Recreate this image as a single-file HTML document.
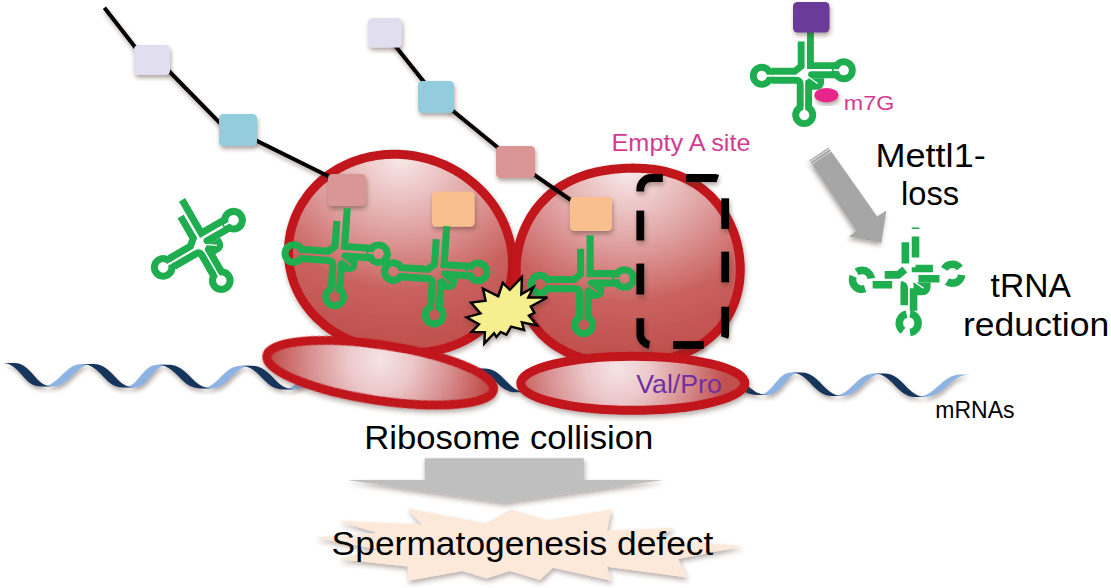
<!DOCTYPE html>
<html><head><meta charset="utf-8">
<style>
html,body{margin:0;padding:0;background:#fff;}
svg{display:block;}
text{font-family:"Liberation Sans",sans-serif;}
</style></head>
<body>
<svg width="1111" height="588" viewBox="0 0 1111 588">

<defs>
 <radialGradient id="gBig" cx="0.5" cy="0.02" r="0.95" fx="0.5" fy="0.02">
  <stop offset="0" stop-color="#f8e8e8"/>
  <stop offset="0.35" stop-color="#e2a9a9"/>
  <stop offset="0.7" stop-color="#c9625f"/>
  <stop offset="1" stop-color="#c0504d"/>
 </radialGradient>
 <radialGradient id="gSL" gradientUnits="userSpaceOnUse" cx="378" cy="362" r="108" fx="378" fy="360">
  <stop offset="0" stop-color="#f6e4e6"/>
  <stop offset="0.3" stop-color="#ecc8ca"/>
  <stop offset="0.65" stop-color="#d78f8f"/>
  <stop offset="1" stop-color="#c0504d"/>
 </radialGradient>
 <radialGradient id="gSR" gradientUnits="userSpaceOnUse" cx="618" cy="370" r="108" fx="618" fy="368">
  <stop offset="0" stop-color="#f6e4e6"/>
  <stop offset="0.3" stop-color="#ecc8ca"/>
  <stop offset="0.65" stop-color="#d78f8f"/>
  <stop offset="1" stop-color="#c0504d"/>
 </radialGradient>
 <filter id="sh" x="-20%" y="-20%" width="140%" height="140%">
  <feGaussianBlur in="SourceAlpha" stdDeviation="2.5"/>
  <feOffset dx="1" dy="3" result="o"/>
  <feFlood flood-color="#4a3028"/><feComposite in2="o" operator="in"/><feComponentTransfer><feFuncA type="linear" slope="0.4"/></feComponentTransfer>
  <feMerge><feMergeNode/><feMergeNode in="SourceGraphic"/></feMerge>
 </filter>
 <filter id="shA" x="-30%" y="-30%" width="160%" height="160%">
  <feGaussianBlur in="SourceAlpha" stdDeviation="2.2"/>
  <feOffset dx="-1.5" dy="2.5" result="o"/>
  <feFlood flood-color="#4a3028"/><feComposite in2="o" operator="in"/><feComponentTransfer><feFuncA type="linear" slope="0.4"/></feComponentTransfer>
  <feMerge><feMergeNode/><feMergeNode in="SourceGraphic"/></feMerge>
 </filter>
 <filter id="sh2" x="-20%" y="-20%" width="140%" height="140%">
  <feGaussianBlur in="SourceAlpha" stdDeviation="2.2"/>
  <feOffset dx="0.5" dy="2.5" result="o"/>
  <feFlood flood-color="#4a3028"/><feComposite in2="o" operator="in"/><feComponentTransfer><feFuncA type="linear" slope="0.42"/></feComponentTransfer>
  <feMerge><feMergeNode/><feMergeNode in="SourceGraphic"/></feMerge>
 </filter>
 <mask id="slit" maskUnits="userSpaceOnUse" x="-60" y="-60" width="120" height="120">
  <rect x="-60" y="-60" width="120" height="120" fill="#fff"/>
  <path d="M3.2,3.9 L13.6,11.1" stroke="#000" stroke-width="1.3"/>
 </mask>
 <mask id="lslit" maskUnits="userSpaceOnUse" x="-60" y="-60" width="120" height="120">
  <rect x="-60" y="-60" width="120" height="120" fill="#fff"/>
  <path d="M-0.15,30 V43.7 M-30,3.15 H-44 M30,-2.6 H40.5" stroke="#000" stroke-width="1.9"/>
 </mask>
 <g id="trna" fill="none" stroke-linejoin="miter" stroke-miterlimit="10">
  <path d="M6.1,-45.8 V-7.35 H33"/>
  <path d="M-3.45,-32.2 V-6.8 L-10,-1.45 H-34"/>
  <path d="M-34,7.75 H-8.5 Q-4.45,7.75 -4.45,11.8 V35"/>
  <g mask="url(#slit)">
   <path d="M33,2.15 H7.25" stroke-linecap="round"/>
   <path d="M3.7,5.7 H20.2 V10 A7.7 7.7 0 0 1 12.5,17.7 H4.25 V8 Z" fill="currentColor" stroke="none"/>
  </g>
  <path d="M4.25,35 V10.3" stroke-linecap="round"/>
  <g mask="url(#lslit)">
  <circle cx="40.5" cy="-2.5" r="8.8"/>
  <circle cx="-0.3" cy="43.7" r="8.8"/>
  <circle cx="-44" cy="3.2" r="8.8"/>
  </g>
 </g>
 <g id="trnaD" fill="none" stroke-linejoin="miter" stroke-miterlimit="10">
  <path d="M6.1,-45.8 V-7.35 H33" stroke-dasharray="1.5 7 19.7 9 17.5 100"/>
  <path d="M-3.45,-32.2 V-6.8 L-10,-1.45 H-34" stroke-dasharray="0 0.4 19.7 5.9 20.6 100"/>
  <path d="M-34,7.75 H-8.5 Q-4.45,7.75 -4.45,11.8 V35" stroke-dasharray="18.3 7.7 21.1 100"/>
  <g mask="url(#slit)">
   <path d="M33,2.15 H7.25" stroke-dasharray="0 4.5 19.7 100"/>
   <path d="M3.7,5.7 H20.2 V10 A7.7 7.7 0 0 1 12.5,17.7 H4.25 V8 Z" fill="currentColor" stroke="none"/>
  </g>
  <path d="M4.25,35 V10.3" stroke-dasharray="0 3 20.9 100"/>
  <circle cx="40.5" cy="-2.5" r="8.8" stroke-dasharray="0 1.27 17.7 13.2 17.1 100"/>
  <circle cx="-0.3" cy="43.7" r="8.8" stroke-dasharray="12.4 6.9 19.8 3.4 12.7 100"/>
  <circle cx="-44" cy="3.2" r="8.8" stroke-dasharray="0 10.75 20.2 5.1 17.7 100"/>
 </g>
</defs>

<rect width="1111" height="588" fill="#fff"/>
<g filter="url(#sh2)"><path d="M41.1,386.5 C59.6,386.5 63.7,363.9 82.3,363.9 L93.3,363.9 C74.8,363.9 70.7,386.5 52.1,386.5Z" fill="#8db3e2"/><path d="M123.5,387.5 C138.8,387.5 142.2,364.8 157.5,364.8 L168.3,364.8 C153.0,364.8 149.6,387.5 134.3,387.5Z" fill="#8db3e2"/><path d="M200.6,388.4 C218.8,388.4 222.8,365.8 241.1,365.8 L251.7,365.8 C233.5,365.8 229.5,388.4 211.2,388.4Z" fill="#8db3e2"/><path d="M283.3,389.4 C299.2,389.4 302.8,366.7 318.8,366.7 L329.2,366.7 C313.3,366.7 309.7,389.4 293.7,389.4Z" fill="#8db3e2"/><path d="M360.9,390.3 C376.9,390.3 380.4,367.7 396.5,367.7 L406.7,367.7 C390.7,367.7 387.2,390.3 371.1,390.3Z" fill="#8db3e2"/><path d="M439.0,391.3 C454.8,391.3 458.3,368.6 474.2,368.6 L484.2,368.6 C468.4,368.6 464.9,391.3 449.0,391.3Z" fill="#8db3e2"/><path d="M516.1,392.2 C532.9,392.2 536.7,369.6 553.6,369.6 L563.4,369.6 C546.6,369.6 542.8,392.2 525.9,392.2Z" fill="#8db3e2"/><path d="M595.1,393.2 C612.1,393.2 615.9,370.6 632.9,370.6 L642.6,370.6 C625.6,370.6 621.8,393.2 604.9,393.2Z" fill="#8db3e2"/><path d="M674.2,394.1 C691.3,394.1 695.1,371.5 712.2,371.5 L721.8,371.5 C704.7,371.5 700.9,394.1 683.8,394.1Z" fill="#8db3e2"/><path d="M758.1,395.1 C773.1,395.1 776.5,372.5 791.6,372.5 L800.8,372.5 C785.8,372.5 782.4,395.1 767.3,395.1Z" fill="#8db3e2"/><path d="M832.6,396.0 C851.6,396.0 855.8,373.5 874.7,373.5 L883.9,373.5 C864.9,373.5 860.7,396.0 841.8,396.0Z" fill="#8db3e2"/><path d="M916.0,397.0 C936.3,397.0 940.9,374.5 961.3,374.5 L970.1,374.5 C949.8,374.5 945.2,397.0 924.8,397.0Z" fill="#8db3e2"/><path d="M2.6,362.9 C19.8,362.9 23.6,386.5 40.7,386.5 L52.5,386.5 C35.3,386.5 31.5,362.9 14.4,362.9Z" fill="#17365d"/><path d="M82.0,363.9 C100.5,363.9 104.6,387.5 123.1,387.5 L134.7,387.5 C116.2,387.5 112.1,363.9 93.6,363.9Z" fill="#17365d"/><path d="M157.1,364.8 C176.5,364.8 180.8,388.4 200.1,388.4 L211.7,388.4 C192.3,388.4 188.0,364.8 168.7,364.8Z" fill="#17365d"/><path d="M240.7,365.8 C259.7,365.8 263.9,389.4 282.8,389.4 L294.2,389.4 C275.2,389.4 271.0,365.8 252.1,365.8Z" fill="#17365d"/><path d="M318.4,366.7 C337.3,366.7 341.5,390.3 360.4,390.3 L371.6,390.3 C352.7,390.3 348.5,366.7 329.6,366.7Z" fill="#17365d"/><path d="M396.0,367.7 C415.1,367.7 419.4,391.3 438.4,391.3 L449.6,391.3 C430.5,391.3 426.2,367.7 407.2,367.7Z" fill="#17365d"/><path d="M473.7,368.6 C492.5,368.6 496.7,392.2 515.5,392.2 L526.5,392.2 C507.7,392.2 503.5,368.6 484.7,368.6Z" fill="#17365d"/><path d="M553.1,369.6 C571.7,369.6 575.9,393.2 594.6,393.2 L605.4,393.2 C586.8,393.2 582.6,369.6 563.9,369.6Z" fill="#17365d"/><path d="M632.3,370.6 C650.9,370.6 655.0,394.1 673.6,394.1 L684.4,394.1 C665.8,394.1 661.7,370.6 643.1,370.6Z" fill="#17365d"/><path d="M711.7,371.5 C732.3,371.5 736.8,395.1 757.4,395.1 L768.0,395.1 C747.4,395.1 742.9,371.5 722.3,371.5Z" fill="#17365d"/><path d="M791.0,372.5 C809.4,372.5 813.5,396.0 832.0,396.0 L842.4,396.0 C824.0,396.0 819.9,372.5 801.4,372.5Z" fill="#17365d"/><path d="M874.1,373.5 C892.6,373.5 896.7,397.0 915.2,397.0 L925.6,397.0 C907.1,397.0 903.0,373.5 884.5,373.5Z" fill="#17365d"/></g><path d="M288.5,249.4 L288.7,245.6 L289.0,241.8 L289.5,238.1 L290.1,234.3 L290.9,230.6 L291.9,227.0 L293.0,223.3 L294.2,219.8 L295.6,216.3 L297.1,212.8 L298.8,209.5 L300.5,206.2 L302.4,203.0 L304.5,199.9 L306.6,196.8 L308.8,193.9 L311.2,191.0 L313.6,188.3 L316.1,185.6 L318.7,183.1 L321.4,180.7 L324.2,178.3 L327.0,176.1 L329.9,174.0 L332.9,172.0 L335.9,170.1 L339.0,168.3 L342.1,166.7 L345.3,165.1 L348.4,163.7 L351.7,162.3 L354.9,161.1 L358.2,160.0 L361.5,158.9 L364.8,158.0 L368.1,157.2 L371.5,156.5 L374.8,155.9 L378.2,155.4 L381.5,155.0 L384.9,154.6 L388.3,154.4 L391.6,154.3 L395.0,154.3 L398.3,154.3 L401.7,154.5 L405.0,154.7 L408.3,155.0 L411.7,155.5 L415.0,156.0 L418.3,156.6 L421.5,157.3 L424.8,158.1 L428.0,159.0 L431.2,159.9 L434.4,161.0 L437.6,162.1 L440.7,163.4 L443.9,164.7 L446.9,166.1 L450.0,167.6 L453.0,169.2 L456.0,170.9 L459.0,172.7 L461.9,174.5 L464.8,176.5 L467.6,178.6 L470.4,180.7 L473.1,182.9 L475.8,185.3 L478.4,187.7 L481.0,190.2 L483.5,192.8 L485.9,195.5 L488.3,198.3 L490.6,201.2 L492.8,204.2 L494.9,207.2 L496.9,210.4 L498.8,213.6 L500.7,216.9 L502.4,220.3 L504.0,223.8 L505.5,227.4 L506.8,231.0 L508.0,234.7 L509.1,238.4 L510.1,242.2 L510.9,246.1 L511.5,250.0 L512.0,253.9 L512.3,257.8 L512.4,261.8 L512.4,265.8 L512.2,269.8 L511.8,273.8 L511.2,277.8 L510.4,281.7 L509.5,285.6 L508.4,289.5 L507.1,293.3 L505.6,297.1 L503.9,300.8 L502.1,304.4 L500.1,307.9 L497.9,311.3 L495.6,314.6 L493.1,317.7 L490.5,320.8 L487.7,323.7 L484.8,326.5 L481.8,329.2 L478.7,331.7 L475.5,334.0 L472.2,336.2 L468.8,338.3 L465.3,340.2 L461.8,342.0 L458.2,343.6 L454.6,345.1 L450.9,346.4 L447.2,347.6 L443.5,348.7 L439.8,349.6 L436.0,350.4 L432.3,351.0 L428.5,351.6 L424.8,352.0 L421.0,352.4 L417.3,352.6 L413.6,352.7 L409.9,352.7 L406.2,352.6 L402.5,352.5 L398.8,352.2 L395.2,351.9 L391.6,351.5 L388.0,351.0 L384.4,350.4 L380.9,349.8 L377.3,349.0 L373.8,348.2 L370.3,347.3 L366.8,346.3 L363.4,345.3 L360.0,344.1 L356.6,342.9 L353.2,341.5 L349.8,340.1 L346.5,338.6 L343.3,337.0 L340.0,335.3 L336.9,333.4 L333.7,331.5 L330.7,329.5 L327.7,327.3 L324.7,325.1 L321.9,322.7 L319.1,320.2 L316.4,317.7 L313.8,315.0 L311.3,312.2 L308.9,309.3 L306.6,306.3 L304.4,303.3 L302.3,300.1 L300.4,296.9 L298.6,293.5 L296.9,290.1 L295.4,286.6 L294.0,283.1 L292.8,279.5 L291.7,275.8 L290.8,272.1 L290.0,268.4 L289.4,264.6 L288.9,260.9 L288.6,257.1 L288.5,253.3Z" fill="url(#gBig)" stroke="#c0181f" stroke-width="9" filter="url(#sh)"/><path d="M516.5,261.0 L516.9,257.1 L517.5,253.2 L518.2,249.4 L519.0,245.6 L520.0,241.8 L521.1,238.1 L522.3,234.5 L523.7,230.9 L525.2,227.4 L526.9,223.9 L528.6,220.6 L530.5,217.3 L532.5,214.1 L534.6,211.0 L536.8,208.0 L539.2,205.1 L541.6,202.3 L544.2,199.7 L546.8,197.1 L549.5,194.7 L552.3,192.3 L555.2,190.1 L558.1,188.1 L561.1,186.1 L564.2,184.3 L567.3,182.6 L570.4,181.0 L573.6,179.5 L576.8,178.1 L580.0,176.9 L583.3,175.7 L586.5,174.6 L589.8,173.7 L593.1,172.8 L596.4,172.0 L599.7,171.3 L603.0,170.7 L606.3,170.2 L609.6,169.7 L612.9,169.3 L616.2,169.0 L619.5,168.7 L622.8,168.5 L626.1,168.3 L629.4,168.2 L632.7,168.1 L636.0,168.2 L639.3,168.3 L642.6,168.4 L645.9,168.6 L649.2,168.9 L652.6,169.3 L655.9,169.8 L659.2,170.3 L662.6,171.0 L665.9,171.7 L669.2,172.6 L672.5,173.6 L675.8,174.6 L679.0,175.8 L682.2,177.1 L685.4,178.6 L688.6,180.1 L691.7,181.8 L694.7,183.6 L697.7,185.6 L700.6,187.6 L703.5,189.8 L706.2,192.1 L708.9,194.5 L711.5,197.0 L714.0,199.7 L716.4,202.4 L718.7,205.3 L720.9,208.2 L723.0,211.3 L725.0,214.4 L726.9,217.6 L728.6,220.9 L730.3,224.3 L731.8,227.7 L733.2,231.2 L734.5,234.8 L735.7,238.4 L736.7,242.1 L737.6,245.8 L738.4,249.5 L739.0,253.3 L739.6,257.2 L739.9,261.0 L740.2,264.9 L740.3,268.7 L740.2,272.6 L740.0,276.5 L739.7,280.4 L739.2,284.3 L738.5,288.1 L737.7,292.0 L736.7,295.7 L735.6,299.5 L734.3,303.2 L732.8,306.8 L731.2,310.4 L729.4,313.9 L727.5,317.2 L725.4,320.5 L723.1,323.7 L720.7,326.8 L718.2,329.8 L715.6,332.6 L712.8,335.3 L709.9,337.9 L706.9,340.3 L703.8,342.6 L700.6,344.8 L697.3,346.8 L694.0,348.7 L690.6,350.4 L687.1,352.0 L683.6,353.5 L680.1,354.9 L676.5,356.1 L672.9,357.2 L669.3,358.2 L665.7,359.1 L662.0,359.9 L658.4,360.6 L654.7,361.2 L651.1,361.7 L647.4,362.2 L643.8,362.6 L640.1,362.9 L636.5,363.1 L632.8,363.3 L629.2,363.4 L625.5,363.5 L621.8,363.4 L618.1,363.4 L614.4,363.2 L610.8,363.0 L607.0,362.7 L603.3,362.3 L599.6,361.8 L595.9,361.2 L592.2,360.5 L588.5,359.7 L584.8,358.7 L581.1,357.7 L577.5,356.5 L573.9,355.2 L570.3,353.7 L566.8,352.1 L563.3,350.3 L559.9,348.4 L556.6,346.4 L553.3,344.2 L550.2,341.9 L547.1,339.4 L544.2,336.7 L541.3,334.0 L538.7,331.1 L536.1,328.0 L533.7,324.9 L531.4,321.6 L529.3,318.3 L527.3,314.8 L525.5,311.3 L523.8,307.6 L522.3,303.9 L521.0,300.2 L519.8,296.4 L518.8,292.5 L518.0,288.6 L517.3,284.7 L516.8,280.8 L516.4,276.8 L516.2,272.9 L516.2,268.9 L516.3,264.9Z" fill="url(#gBig)" stroke="#c0181f" stroke-width="9" filter="url(#sh)"/><ellipse cx="380.2" cy="372.8" rx="114.6" ry="27.7" transform="rotate(8.5 380.2 372.8)" fill="url(#gSL)" stroke="#c0181f" stroke-width="9" filter="url(#sh)"/><ellipse cx="632.8" cy="383.3" rx="112" ry="27" fill="url(#gSR)" stroke="#c0181f" stroke-width="9" filter="url(#sh)"/><g filter="url(#sh2)"><path d="M104.4,7.7 L150,66.2 M160,62 L235,138.4 M245,134.9 L333,178.5" fill="none" stroke="#000" stroke-width="4"/><polyline points="385,33 436,97 515.5,162 591,214" fill="none" stroke="#000" stroke-width="4"/></g><rect x="134" y="45" width="36" height="30" rx="4.5" fill="#e1def0" filter="url(#sh2)"/><rect x="219" y="114" width="38" height="32" rx="4.5" fill="#93cddd" filter="url(#sh2)"/><rect x="328" y="174" width="38" height="32" rx="4.5" fill="#d99694" filter="url(#sh2)"/><rect x="368" y="18" width="34" height="29.5" rx="4.5" fill="#e1def0" filter="url(#sh2)"/><rect x="418" y="81" width="36" height="32" rx="4.5" fill="#93cddd" filter="url(#sh2)"/><rect x="496" y="146" width="39" height="32" rx="4.5" fill="#d99694" filter="url(#sh2)"/><rect x="570" y="197" width="42" height="34" rx="4.5" fill="#f9bf8f" filter="url(#sh2)"/><rect x="432" y="191.4" width="42.69999999999999" height="35.400000000000006" rx="4.5" fill="#f9bf8f" filter="url(#sh2)"/><use href="#trna" transform="translate(338,253.4) rotate(4) scale(1.0)" stroke="#1ead4f" color="#1ead4f" stroke-width="7.1" /><use href="#trna" transform="translate(437.5,271.5) rotate(4) scale(1.0)" stroke="#1ead4f" color="#1ead4f" stroke-width="7.1" /><use href="#trna" transform="translate(584,281) rotate(0) scale(1.0)" stroke="#1ead4f" color="#1ead4f" stroke-width="7.1" /><use href="#trna" transform="translate(199.7,242.6) rotate(-30) scale(1.0)" stroke="#1ead4f" color="#1ead4f" stroke-width="7.1" /><polygon points="466.5,317.3 480.5,313.4 470.9,302.6 485.6,300.7 483.0,288.6 498.3,296.2 502.8,282.8 509.8,289.8 521.9,277.1 521.3,294.3 533.4,287.3 528.3,297.5 547.4,297.5 530.8,306.4 534.4,312.8 528.9,315.6 537.0,325.5 521.9,322.4 524.1,330.0 511.1,326.6 506.4,334.7 500.6,331.9 496.4,337.0 494.1,333.2 484.3,343.6 484.9,332.2 471.6,331.9 479.0,324.3" fill="#f6ee8f" stroke="#000" stroke-width="2.4" stroke-linejoin="miter" filter="url(#sh2)"/><g filter="url(#sh2)" fill="none" stroke="#000" stroke-width="7.8"><path d="M640.3,191.5 V189 A11,11 0 0 1 651.3,178 H662.8"/><path d="M686.2,178 H714.5 A11,11 0 0 1 717.8,178.6"/><path d="M725.2,198.3 V228.9"/><path d="M725.2,251.7 V282.3"/><path d="M725.2,306.7 V334 A11,11 0 0 1 724.6,337.6"/><path d="M703.8,345 H673.2"/><path d="M649.4,344.8 A11,11 0 0 1 640.3,334 V318.2"/><path d="M640.3,294.5 V263.6"/><path d="M640.3,240.5 V210.6"/></g><use href="#trna" transform="translate(804.5,72.7) rotate(0) scale(0.97)" stroke="#1ead4f" color="#1ead4f" stroke-width="7.1" /><rect x="793" y="2" width="36.5" height="30.6" rx="4.5" fill="#6b3a98" filter="url(#sh2)"/><ellipse cx="826.4" cy="95.2" rx="12" ry="7.2" fill="#e6288a" filter="url(#sh2)"/><g filter="url(#shA)" fill="#a6a6a6"><polygon points="812.23,164.53 856.3,230.7 849.2,236.6 881.3,242.8 886.4,210.5 877.2,216.4 831.33,151.62"/><polygon points="809.4,160.4 828.5,147.5 829.18,148.49 810.08,161.39"/><polygon points="810.59,162.13 829.69,149.23 830.82,150.88 811.72,163.78"/></g><use href="#trnaD" transform="translate(909,276.4) rotate(0) scale(1.07)" stroke="#1ead4f" color="#1ead4f" stroke-width="7.1" /><polygon points="424.7,458.2 583.8,458.2 583.8,480 663.4,480 503.5,502.7 347,480 424.7,480" fill="#bfbfbf" filter="url(#sh)"/><polygon points="315,537.4 377,533 338.2,521 421.5,524.6 407.5,508.4 486.3,523.5 511.1,509.4 546.8,520.2 611.3,509.4 607,531 674,527.8 657,539 743,546.2 678.2,559 686.9,577.5 607,566.7 611.3,580.7 553,567.8 540,580 510,571 486.3,578.6 462.5,571 408.6,580.7 407.7,566.6 338.2,559.1 377.8,549.4" fill="#fde9d9" filter="url(#sh)"/><text x="611.5" y="151" font-size="23.6" fill="#d53a93" textLength="139" lengthAdjust="spacingAndGlyphs" text-anchor="start">Empty A site</text><text x="636.2" y="393.4" font-size="24.9" fill="#7030a0" textLength="85.7" lengthAdjust="spacingAndGlyphs" text-anchor="start">Val/Pro</text><text x="843.8" y="110" font-size="21" fill="#d53a93" textLength="50.5" lengthAdjust="spacingAndGlyphs" text-anchor="start">m7G</text><text x="875.5" y="166.7" font-size="32.7" fill="#000" textLength="110.2" lengthAdjust="spacingAndGlyphs" text-anchor="start">Mettl1-</text><text x="901" y="204.5" font-size="32.7" fill="#000" textLength="58" lengthAdjust="spacingAndGlyphs" text-anchor="start">loss</text><text x="990.6" y="296.7" font-size="33.1" fill="#000" textLength="80.3" lengthAdjust="spacingAndGlyphs" text-anchor="start">tRNA</text><text x="963" y="335.8" font-size="33.1" fill="#000" textLength="146.2" lengthAdjust="spacingAndGlyphs" text-anchor="start">reduction</text><text x="935.3" y="418.2" font-size="23.2" fill="#000" textLength="79.2" lengthAdjust="spacingAndGlyphs" text-anchor="start">mRNAs</text><text x="364.2" y="449.3" font-size="33.2" fill="#000" textLength="289.1" lengthAdjust="spacingAndGlyphs" text-anchor="start">Ribosome collision</text><text x="331.6" y="554.9" font-size="33.2" fill="#000" textLength="381.8" lengthAdjust="spacingAndGlyphs" text-anchor="start">Spermatogenesis defect</text>
</svg>
</body></html>
